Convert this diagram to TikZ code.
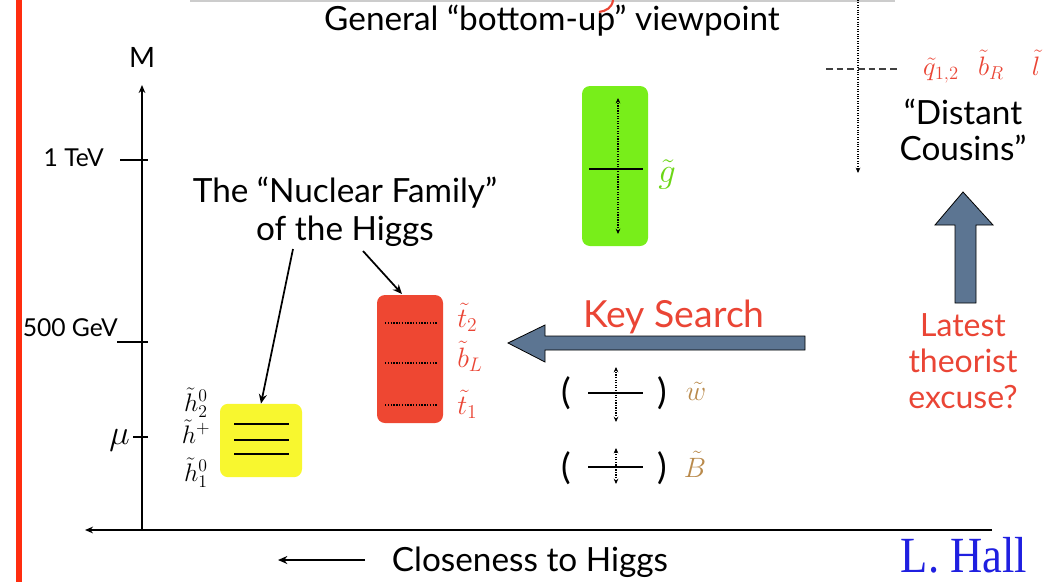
\RequirePackage{fix-cm}
\documentclass[tikz,border=0pt]{standalone}
\usepackage{fontspec}
\setmainfont{Lato}
\newfontfamily\timesfont{Liberation Serif}
\usetikzlibrary{arrows.meta}
\definecolor{redbar}{HTML}{FF2D0F}
\definecolor{txtred}{HTML}{EA4535}
\definecolor{boxred}{HTML}{EE4732}
\definecolor{yel}{HTML}{F8F72F}
\definecolor{grn}{HTML}{78EE1A}
\definecolor{slate}{HTML}{5C7592}
\definecolor{brn}{HTML}{B98A4C}
\definecolor{hallblue}{HTML}{1F1FE0}
\begin{document}
\begin{tikzpicture}[x=0.75pt,y=-0.75pt,
  big/.style={font=\fontsize{25}{28.5}\selectfont, inner sep=0pt},
  axlab/.style={font=\fontsize{18.5}{20}\selectfont, inner sep=0pt},
  mlab/.style={font=\fontsize{21}{23}\selectfont, inner sep=0pt, anchor=base},
  hlab/.style={font=\fontsize{19}{21}\selectfont, inner sep=0pt, anchor=base},
  axis/.style={line width=1.5pt, -{Stealth[length=6pt,width=5pt]}},
  tick/.style={line width=1.3pt},
  ptr/.style={line width=1.3pt, -{Stealth[length=7pt,width=6pt]}},
  levelbox/.style={rounded corners=6pt, minimum width=49.5pt, inner sep=0pt},
  blockarrow/.style={fill=slate, draw=black, line width=0.6pt},
  dotv/.style={densely dotted, line width=0.9pt, {Stealth[length=4pt,width=3.5pt]}-{Stealth[length=4pt,width=3.5pt]}},
  paren/.style={font=\fontsize{27}{28}\selectfont, inner sep=0pt}
]
\useasboundingbox (0,0) rectangle (1048,582);
% red bar and top line
\fill[redbar] (16,0) rectangle (22,582);
\draw[gray!40, line width=0.8pt] (190,1) -- (895,1);
\draw[txtred, line width=1.6pt] (613,0) .. controls (612,8) and (606,11) .. (599,12);
% title
\node[big] (title) at (552,21) {General “bottom-up” viewpoint};
% axes
\coordinate (O) at (142,530);
\coordinate (Mtop) at (142,85);
\coordinate (Xr) at (992,530);
\coordinate (Xl) at (85,530);
\draw[axis] (O) -- (Mtop);
\draw[axis] (Xr) -- (Xl);
\node[font=\fontsize{21}{22}\selectfont, inner sep=0pt] (M) at (142,57) {M};
\draw[tick] (120,160) -- (148,160);
\node[axlab, anchor=east] (tev) at (104,158) {1 TeV};
\draw[tick] (117,342) -- (148,342);
\node[axlab, anchor=east] (gev) at (118,328) {500 GeV};
\draw[tick] (133,437) -- (148,437);
\node[font=\fontsize{26}{28}\selectfont, inner sep=0pt, anchor=base east] (mu) at (130,444) {$\mu$};
% yellow box
\node[levelbox, fill=yel, minimum width=61.5pt, minimum height=55pt] (yel) at (261,440.5) {};
\draw[line width=1.4pt] (234,424) -- (289,424);
\draw[line width=1.4pt] (234,440) -- (289,440);
\draw[line width=1.4pt] (234,454) -- (289,454);
\node[hlab] (h2) at (196,411) {$\tilde h_2^0$};
\node[hlab] (hp) at (196,443) {$\tilde h^+$};
\node[hlab] (h1) at (196,481) {$\tilde h_1^0$};
% red box
\node[levelbox, fill=boxred, minimum height=96pt] (rbox) at (410,359) {};
\draw[densely dotted, line width=1.1pt] (385,323) -- (438,323);
\draw[densely dotted, line width=1.1pt] (385,363) -- (438,363);
\draw[densely dotted, line width=1.1pt] (385,405) -- (438,405);
\node[mlab, text=txtred, anchor=base west] (t2) at (457,327) {$\tilde t_2$};
\node[mlab, text=txtred, anchor=base west] (bL) at (457,367) {$\tilde b_L$};
\node[mlab, text=txtred, anchor=base west] (t1) at (457,414) {$\tilde t_1$};
% green box
\node[levelbox, fill=grn, minimum height=120pt] (gbox) at (615,166) {};
\draw[line width=1.3pt] (589,169) -- (643,169);
\coordinate (gt) at (618,98);
\coordinate (gb) at (618,234);
\draw[dotv] (gb) -- (gt);
\node[text=grn!90!black, inner sep=0pt, anchor=base, font=\fontsize{26}{28}\selectfont] (g) at (667,182) {$\tilde g$};
% nuclear family label and pointers
\node[big, align=center] (nuc) at (345,212) {The “Nuclear Family”\\of the Higgs};
\coordinate (n1) at (293,249);
\coordinate (n2) at (363,251);
\coordinate (rt) at (402,294);
\draw[ptr] (n1) -- (yel.north);
\draw[ptr] (n2) -- (rt);
% key search arrow
\draw[blockarrow] (508,343) -- (545,325) -- (545,336) -- (805,336) -- (805,350) -- (545,350) -- (545,362) -- cycle;
\node[font=\fontsize{28}{30}\selectfont, inner sep=0pt, text=txtred] (key) at (674,317) {Key Search};
% wino, bino
\node[paren] (w1) at (566,393) {(};
\node[paren] (w2) at (662,393) {)};
\draw[line width=1.3pt] (588,393) -- (643,393);
\coordinate (wt) at (616,367);
\coordinate (wb) at (616,422);
\draw[dotv] (wb) -- (wt);
\node[mlab, text=brn] (w) at (696,400) {$\tilde w$};
\node[paren] (b1) at (566,468) {(};
\node[paren] (b2) at (662,468) {)};
\draw[line width=1.3pt] (588,467) -- (643,467);
\coordinate (bt) at (616,448);
\coordinate (bb) at (616,484);
\draw[dotv] (bb) -- (bt);
\node[mlab, text=brn] (B) at (695,477) {$\tilde B$};
% distant cousins
\coordinate (dtop) at (858,0);
\coordinate (dbot) at (858,173);
\draw[densely dotted, line width=0.8pt, -{Stealth[length=4pt,width=3.5pt]}] (dtop) -- (dbot);
\coordinate (dl) at (826,69);
\coordinate (dr) at (900,69);
\draw[dashed, line width=1.2pt, black!75, dash pattern=on 5pt off 3pt] (dl) -- (dr);
\node[mlab, text=txtred, font=\fontsize{20}{22}\selectfont] (q12) at (941,75) {$\tilde q_{1,2}$};
\node[mlab, text=txtred, font=\fontsize{20}{22}\selectfont] (bR) at (991,75) {$\tilde b_R$};
\node[mlab, text=txtred, font=\fontsize{20}{22}\selectfont] (l) at (1036,75) {$\tilde l$};
\node[align=center, inner sep=0pt, font=\fontsize{25}{27}\selectfont] (dc) at (963,130) {“Distant\\Cousins”};
% up arrow and excuse
\draw[blockarrow] (963,192) -- (993,225) -- (976,225) -- (976,303) -- (955,303) -- (955,225) -- (935,225) -- cycle;
\node[align=center, inner sep=0pt, text=txtred, font=\fontsize{24}{27}\selectfont] (exc) at (963,361) {Latest\\theorist\\excuse?};
% bottom
\node[big] (close) at (530,562) {Closeness to Higgs};
\coordinate (ca) at (365,560);
\coordinate (cb) at (278,560);
\draw[line width=1.3pt, -{Stealth[length=7pt,width=6pt]}] (ca) -- (cb);
\node[inner sep=0pt, text=hallblue, font=\fontsize{38}{40}\timesfont] (hall) at (964,555) {\scalebox{0.88}[1]{L. Hall}};
\end{tikzpicture}
\end{document}
